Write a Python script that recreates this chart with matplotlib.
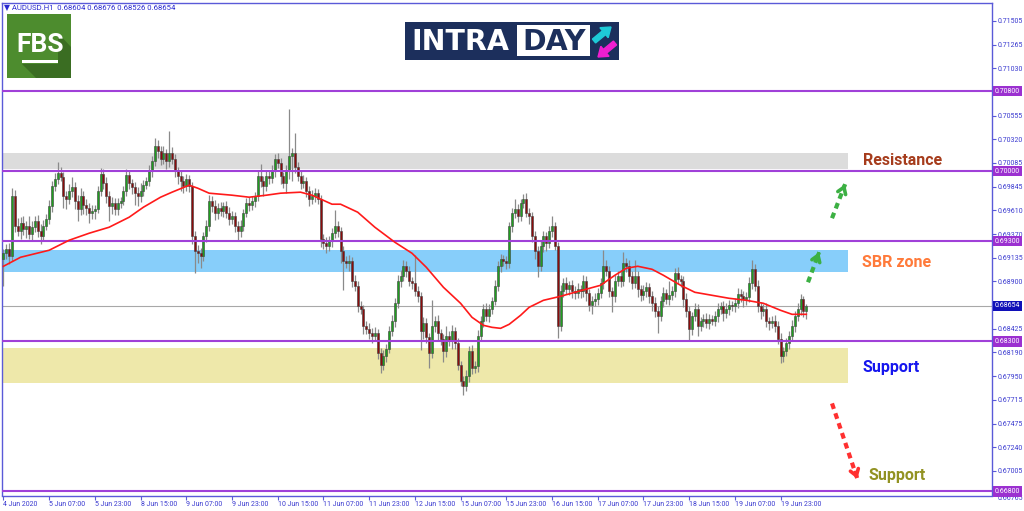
import matplotlib
matplotlib.use("Agg")
import matplotlib.pyplot as plt
import matplotlib.transforms as mtransforms
from matplotlib.patches import Rectangle, Polygon, FancyArrow
import numpy as np

plt.rcParams['font.family'] = ['Roboto', 'DejaVu Sans']

# ---------------- data (prices in units of 0.0001) ----------------
first_open = 6912
close_pts = [
    6918, 6922, 6915, 6975, 6945, 6940, 6948, 6942, 6945, 6937, 6944, 6950, 6940, 6935, 6945, 6952, 6965, 6985, 6992, 6998,
    6994, 6975, 6972, 6980, 6984, 6970, 6962, 6975, 6966, 6963, 6958, 6960, 6962, 6980, 6997, 6988, 6975, 6965, 6968, 6962,
    6968, 6970, 6980, 6996, 6988, 6984, 6978, 6975, 6980, 6986, 6990, 7000, 7010, 7025, 7020, 7012, 7018, 7010, 7018, 7012,
    7000, 6995, 6990, 6985, 6992, 6985, 6935, 6920, 6918, 6915, 6935, 6945, 6970, 6965, 6958, 6963, 6960, 6965, 6958, 6952,
    6955, 6945, 6940, 6945, 6958, 6968, 6966, 6970, 6975, 6995, 6990, 6985, 6995, 6993, 7000, 7012, 7008, 6995, 6988, 7000,
    7015, 7018, 7004, 6995, 6988, 6990, 6980, 6972, 6975, 6978, 6972, 6932, 6928, 6925, 6930, 6938, 6945, 6940, 6920, 6910,
    6908, 6910, 6890, 6885, 6865, 6862, 6845, 6842, 6838, 6835, 6838, 6818, 6806, 6815, 6822, 6840, 6850, 6868, 6890, 6895,
    6905, 6900, 6890, 6888, 6880, 6875, 6840, 6848, 6834, 6818, 6845, 6850, 6838, 6832, 6820, 6835, 6830, 6840, 6828, 6806,
    6790, 6785, 6795, 6820, 6803, 6805, 6835, 6850, 6862, 6855, 6862, 6870, 6885, 6905, 6912, 6910, 6908, 6945, 6958, 6962,
    6955, 6968, 6972, 6958, 6955, 6935, 6920, 6905, 6925, 6935, 6928, 6940, 6945, 6925, 6845, 6880, 6888, 6882, 6886, 6880,
    6878, 6882, 6880, 6890, 6878, 6866, 6870, 6872, 6878, 6888, 6905, 6900, 6880, 6875, 6890, 6895, 6890, 6908, 6905, 6895,
    6888, 6895, 6882, 6876, 6880, 6884, 6875, 6868, 6860, 6855, 6870, 6878, 6872, 6876, 6880, 6898, 6892, 6890, 6872, 6860,
    6842, 6855, 6862, 6845, 6850, 6852, 6848, 6852, 6850, 6855, 6862, 6865, 6858, 6862, 6866, 6865, 6868, 6877, 6875, 6872,
    6874, 6888, 6902, 6885, 6865, 6860, 6862, 6850, 6848, 6850, 6845, 6832, 6815, 6820, 6828, 6835, 6845, 6855, 6862, 6872,
    6860.4, 6865.4,
]
upper_wick = [
    4, 5, 6, 8, 6, 8, 6, 7, 5, 10, 6, 5, 6, 7, 6, 5, 6, 5, 6, 11,
    6, 5, 5, 7, 10, 5, 6, 8, 5, 6, 5, 6, 4, 5, 6, 5, 6, 5, 6, 5,
    5, 4, 5, 6, 5, 4, 5, 6, 8, 5, 4, 6, 5, 8, 6, 5, 7, 4, 22, 6,
    5, 4, 6, 5, 5, 4, 4, 5, 6, 5, 4, 6, 6, 5, 6, 5, 6, 4, 5, 6,
    5, 4, 5, 6, 4, 5, 6, 5, 4, 6, 12, 5, 6, 5, 6, 5, 6, 5, 4, 6,
    47, 5, 20, 5, 5, 6, 4, 5, 6, 5, 4, 4, 5, 6, 5, 5, 16, 5, 4, 5,
    5, 6, 4, 6, 5, 5, 4, 5, 6, 5, 6, 4, 5, 6, 5, 5, 6, 5, 6, 6,
    6, 5, 5, 4, 28, 5, 4, 6, 5, 4, 26, 5, 6, 4, 5, 10, 5, 6, 4, 5,
    4, 5, 6, 5, 6, 5, 6, 5, 5, 6, 5, 4, 6, 5, 5, 4, 5, 4, 5, 10,
    5, 4, 5, 6, 5, 4, 5, 5, 6, 5, 4, 5, 10, 4, 4, 6, 5, 6, 4, 5,
    5, 6, 4, 6, 5, 4, 5, 6, 5, 5, 16, 6, 5, 4, 6, 5, 6, 11, 5, 6,
    5, 16, 5, 4, 6, 5, 4, 5, 6, 5, 5, 6, 4, 14, 5, 5, 6, 4, 5, 6,
    5, 4, 6, 5, 4, 5, 6, 5, 4, 5, 6, 4, 5, 6, 5, 4, 5, 6, 5, 5,
    5, 6, 9, 5, 6, 4, 5, 6, 4, 5, 6, 5, 6, 4, 5, 5, 6, 5, 6, 5,
    3, 2.2,
]
lower_wick = [
    27, 6, 8, 5, 6, 5, 8, 6, 9, 5, 7, 5, 6, 8, 5, 4, 5, 6, 5, 5,
    4, 12, 10, 5, 6, 8, 12, 6, 9, 7, 10, 6, 8, 4, 5, 6, 7, 15, 8, 6,
    6, 5, 4, 5, 6, 7, 12, 10, 6, 5, 4, 5, 6, 5, 7, 6, 5, 8, 6, 5,
    6, 8, 10, 7, 5, 6, 8, 22, 10, 12, 5, 6, 5, 6, 7, 6, 5, 6, 5, 6,
    5, 6, 9, 6, 5, 4, 6, 5, 6, 5, 6, 10, 5, 6, 5, 6, 5, 8, 5, 10,
    8, 25, 6, 5, 6, 5, 6, 7, 5, 6, 5, 8, 6, 7, 5, 6, 5, 6, 12, 29,
    5, 8, 6, 5, 6, 5, 8, 5, 6, 7, 5, 6, 8, 5, 6, 4, 5, 6, 5, 6,
    5, 6, 5, 6, 5, 6, 19, 8, 6, 15, 5, 6, 8, 6, 11, 6, 5, 8, 6, 5,
    5, 9, 5, 6, 6, 5, 6, 5, 6, 5, 6, 5, 4, 5, 6, 5, 6, 5, 6, 5,
    6, 5, 5, 4, 8, 6, 8, 11, 5, 6, 8, 5, 6, 4, 12, 5, 6, 5, 6, 7,
    6, 5, 7, 6, 8, 6, 9, 5, 6, 5, 6, 5, 6, 16, 6, 5, 6, 5, 6, 6,
    6, 5, 8, 6, 5, 6, 7, 8, 6, 17, 5, 6, 5, 6, 5, 6, 5, 6, 8, 6,
    12, 6, 5, 10, 5, 6, 5, 6, 4, 5, 6, 5, 8, 5, 6, 5, 6, 5, 6, 8,
    6, 5, 6, 5, 6, 8, 5, 6, 7, 5, 6, 5, 7, 6, 5, 6, 5, 6, 5, 6,
    6, 7.8,
]
# moving average (bar index, price)
ma_idx = [0, 6, 16, 23, 30, 37, 44, 49, 55, 59, 65, 68, 72, 80, 86, 92, 97, 104, 108, 115,
          118, 124, 130, 137, 143, 148, 154, 160, 164, 168, 171, 174, 177, 181, 184, 189, 195,
          200, 209, 214, 218, 222, 227, 231, 237, 242, 248, 254, 260, 266, 272, 276, 281]
ma_val = [0.6905, 0.6914, 0.6921, 0.6931, 0.6938, 0.6944, 0.6954, 0.6964, 0.6974, 0.6979,
          0.6986, 0.6983, 0.6978, 0.6976, 0.6974, 0.6976, 0.6978, 0.6979, 0.6976, 0.6967,
          0.6967, 0.6959, 0.6944, 0.6929, 0.6918, 0.6904, 0.6884, 0.6868, 0.6854, 0.6846,
          0.6844, 0.6843, 0.6847, 0.6856, 0.6864, 0.6871, 0.6875, 0.6879, 0.6886, 0.6896,
          0.6903, 0.6905, 0.6902, 0.6896, 0.6886, 0.6879, 0.6876, 0.6873, 0.6871, 0.6868,
          0.6861, 0.6857, 0.6857]

date_labels = ["4 Jun 2020", "5 Jun 07:00", "5 Jun 23:00", "8 Jun 15:00", "9 Jun 07:00",
               "9 Jun 23:00", "10 Jun 15:00", "11 Jun 07:00", "11 Jun 23:00", "12 Jun 15:00",
               "15 Jun 07:00", "15 Jun 23:00", "16 Jun 15:00", "17 Jun 07:00", "17 Jun 23:00",
               "18 Jun 15:00", "19 Jun 07:00", "19 Jun 23:00"]
bars_per_label = 16
price_ticks = [0.71505, 0.71265, 0.71030, 0.70555, 0.70320, 0.70085, 0.69845, 0.69610,
               0.69370, 0.69135, 0.68900, 0.68425, 0.68190, 0.67950, 0.67715, 0.67475,
               0.67240, 0.67005, 0.66765]
level_lines = [0.70800, 0.70000, 0.69300, 0.68300, 0.66800]
current_price = 0.68654
resistance_zone = (0.7002, 0.7018)
sbr_zone = (0.6899, 0.6921)
support_zone = (0.6788, 0.6823)
zone_end_bar = 295.6

# ---------------- figure ----------------
W, H = 1024, 511
fig = plt.figure(figsize=(W / 100, H / 100), dpi=100)
fig.patch.set_facecolor('white')
ax = fig.add_axes([2 / W, 1 - 495.5 / H, 990 / W, 492.5 / H])
ax.set_xlim(-0.5, 346)
ax.set_ylim(0.6676, 0.7168)

frame_col = '#5a5ad8'
lab_col = '#3a3ad0'
for s in ax.spines.values():
    s.set_color(frame_col)
    s.set_linewidth(1.0)

closes = np.array(close_pts, dtype=float) / 1e4
opens = np.r_[first_open / 1e4, closes[:-1]]
highs = np.maximum(opens, closes) + np.array(upper_wick, dtype=float) / 1e4
lows = np.minimum(opens, closes) - np.array(lower_wick, dtype=float) / 1e4
x = np.arange(len(closes))

# zones
for (lo, hi), col in [(resistance_zone, '#dcdcdc'), (sbr_zone, '#87cefa'), (support_zone, '#eee8aa')]:
    ax.add_patch(Rectangle((-0.5, lo), zone_end_bar + 0.5, hi - lo, facecolor=col,
                           edgecolor='none', zorder=1))

# current price line
ax.axhline(current_price, color='#a8a8a8', lw=0.8, zorder=2)

# candles
ax.vlines(x, lows, highs, color='#8a8a8a', lw=0.9, zorder=3)
up = closes >= opens
ax.bar(x[up], (closes - opens)[up], bottom=opens[up], width=0.72, color='#1f9e1f',
       edgecolor='#404040', linewidth=0.4, zorder=4)
ax.bar(x[~up], (closes - opens)[~up], bottom=opens[~up], width=0.72, color='#8b0c0c',
       edgecolor='#404040', linewidth=0.4, zorder=4)

# moving average
ax.plot(ma_idx, ma_val, color='#ff1a1a', lw=1.2, zorder=6)

# level lines
for lv in level_lines:
    ax.axhline(lv, color='#a040d8', lw=1.5, zorder=5)

# axes ticks
ax.yaxis.tick_right()
ax.set_yticks(price_ticks)
ax.set_yticklabels([f"{p:.5f}" for p in price_ticks])
ax.tick_params(axis='y', direction='out', length=3, width=0.8, color=frame_col,
               labelsize=5, labelcolor=lab_col, pad=1)
ax.set_xticks([i * bars_per_label for i in range(len(date_labels))])
ax.set_xticklabels(date_labels)
ax.tick_params(axis='x', direction='out', length=3, width=0.8, color=frame_col,
               labelsize=5, labelcolor=lab_col, pad=1)
for t in ax.get_xticklabels():
    t.set_ha('left')
# the lowest price label is mostly hidden behind the 0.66800 tag, as in the reference
ax.get_yticklabels()[-1].set_va('top')

# boxed price labels
trans = mtransforms.blended_transform_factory(ax.transAxes, ax.transData)
for lv in level_lines:
    ax.text(1.003, lv, f"{lv:.5f}", transform=trans, ha='left', va='center', fontsize=5,
            color='white', zorder=20, clip_on=False,
            bbox=dict(boxstyle='square,pad=0.25', fc='#9b30d0', ec='none'))
ax.text(1.003, current_price, f"{current_price:.5f}", transform=trans, ha='left', va='center',
        fontsize=5, color='white', zorder=20, clip_on=False,
        bbox=dict(boxstyle='square,pad=0.25', fc='#1010b8', ec='none'))

# arrows
def dashed_arrow(x0, y0, x1, y1, col):
    ax.plot([x0, x1], [y0, y1], color=col, lw=3, ls=(0, (1.4, 1.1)), zorder=7,
            solid_capstyle='butt', dash_capstyle='butt')
    ax.annotate('', xy=(x1, y1), xytext=(x0 + (x1 - x0) * 0.85, y0 + (y1 - y0) * 0.85),
                arrowprops=dict(arrowstyle='->,head_length=0.45,head_width=0.3', lw=2.6,
                                color=col), zorder=8)

dashed_arrow(290.0, 0.6953, 294.6, 0.6987, '#3cb043')
dashed_arrow(281.6, 0.6889, 285.5, 0.6919, '#3cb043')
dashed_arrow(290.0, 0.6768, 299.2, 0.6690, '#ff3030')

# zone labels
ax.text(300.8, 0.7011, "Resistance", fontsize=11.5, fontweight='bold', color='#a63c1c',
        va='center', ha='left', zorder=9)
ax.text(300.6, 0.6909, "SBR zone", fontsize=11.5, fontweight='bold', color='#ff7a3a',
        va='center', ha='left', zorder=9)
ax.text(300.6, 0.6804, "Support", fontsize=11.5, fontweight='bold', color='#1616ee',
        va='center', ha='left', zorder=9)
ax.text(302.6, 0.6696, "Support", fontsize=11.5, fontweight='bold', color='#929222',
        va='center', ha='left', zorder=9)

# ---------------- overlay: header and logos (pixel coordinates) ----------------
ov = fig.add_axes([0, 0, 1, 1], zorder=10)
ov.set_xlim(0, W)
ov.set_ylim(H, 0)
ov.axis('off')

ov.text(4, 7.5, "\u25BC AUDUSD.H1  0.68604 0.68676 0.68526 0.68654", fontsize=5.6,
        color='#2a2ad0', va='center', ha='left', family=['Roboto', 'DejaVu Sans'])

# FBS logo
ov.add_patch(Rectangle((7, 14), 64, 64, facecolor='#4d8c2e', edgecolor='none'))
ov.add_patch(Polygon([(58, 33), (71, 47), (71, 78), (36, 78), (22, 64), (58, 64)],
                     closed=True, facecolor='#3a6d22', edgecolor='none'))
ov.text(40.5, 45, "FBS", fontsize=19, fontweight='bold', color='white', ha='center',
        va='center')
ov.add_patch(Rectangle((22, 60), 36, 3, facecolor='white', edgecolor='none'))

# INTRADAY logo
ov.add_patch(Rectangle((405, 22), 214, 38, facecolor='#1c2f5c', edgecolor='none'))
ov.add_patch(Rectangle((517, 25), 73, 31, facecolor='white', edgecolor='none'))
ov.text(411, 41.5, "INTRA", fontsize=20.5, fontweight='bold', color='white', ha='left',
        va='center', family=['DejaVu Sans'])
ov.text(554, 41.5, "DAY", fontsize=20.5, fontweight='bold', color='#1c2f5c', ha='center',
        va='center', family=['DejaVu Sans'])
ov.add_patch(FancyArrow(594, 41, 17, -14, width=5, head_width=13, head_length=9,
                        length_includes_head=True, color='#1ecad8'))
ov.add_patch(FancyArrow(615, 43, -17, 14, width=5, head_width=13, head_length=9,
                        length_includes_head=True, color='#f01ed0'))

fig.savefig("out.png", dpi=100, facecolor='white')
